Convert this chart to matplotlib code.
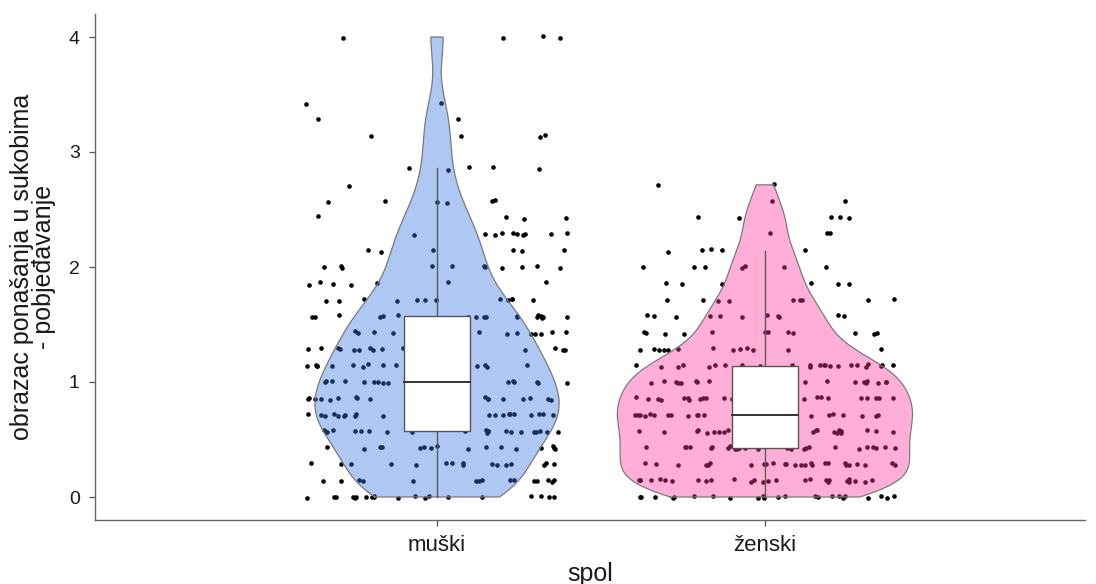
import numpy as np
import matplotlib.pyplot as plt
from matplotlib.patches import Rectangle

# answers are means of 7 items scored 0-4, so values sit on k/7
levels = np.arange(29) / 7.0

groups = ['muški', 'ženski']
# number of respondents at each level k/7 (k = 0..28)
counts_m = [20, 15, 16, 16, 22, 24, 21, 23, 18, 20, 14, 18, 12, 7, 11,
            6, 10, 4, 6, 1, 5, 0, 4, 2, 2, 0, 0, 0, 4]
counts_z = [23, 27, 26, 26, 25, 28, 26, 25, 24, 13, 12, 11, 9, 6, 7,
            5, 3, 5, 2, 2, 0, 0, 0, 0, 0, 0, 0, 0, 0]

fills = ['#3975e3', '#ff399d']
yticks = [0, 1, 2, 3, 4]

plt.rcParams['font.family'] = ['Liberation Sans', 'DejaVu Sans']


def nrd0(v):
    q75, q25 = np.percentile(v, [75, 25])
    s = min(np.std(v, ddof=1), (q75 - q25) / 1.34)
    return 0.9 * s * len(v) ** -0.2


def kde(v, grid):
    bw = nrd0(v)
    d = (grid[:, None] - v[None, :]) / bw
    return np.exp(-0.5 * d ** 2).sum(axis=1) / (len(v) * bw * np.sqrt(2 * np.pi))


data = [np.repeat(levels, counts_m), np.repeat(levels, counts_z)]

fig = plt.figure(figsize=(10.96, 5.84), dpi=100)
ax = fig.add_axes([95 / 1096, 64 / 584, 990 / 1096, 506 / 584])

# density curves, scaled by area (same max for the whole plot)
grids, dens = [], []
for v in data:
    g = np.linspace(v.min(), v.max(), 512)
    grids.append(g)
    dens.append(kde(v, g))
dmax = max(d.max() for d in dens)

# jitter offsets only (seeded so the run is repeatable)
rng = np.random.default_rng(12)

for i, v in enumerate(data):
    pos = i + 1
    n = len(v)
    xj = pos + rng.uniform(-0.4, 0.4, n)
    yj = v + rng.uniform(-0.012, 0.012, n)
    ax.scatter(xj, yj, s=11, color='black', linewidths=0, zorder=1)

    half = 0.45 * dens[i] / dmax
    ax.fill_betweenx(grids[i], pos - half, pos + half, facecolor=fills[i],
                     alpha=0.4, edgecolor='none', zorder=2)
    ax.plot(np.r_[pos - half, (pos + half)[::-1], pos - half[0]],
            np.r_[grids[i], grids[i][::-1], grids[i][0]],
            color='#7a7a7a', lw=0.9, zorder=3)

    q1, med, q3 = np.percentile(v, [25, 50, 75])
    iqr = q3 - q1
    lo = v[v >= q1 - 1.5 * iqr].min()
    hi = v[v <= q3 + 1.5 * iqr].max()
    ax.plot([pos, pos], [lo, hi], color='#5a5a5a', lw=1.0, zorder=4)
    ax.add_patch(Rectangle((pos - 0.1, q1), 0.2, iqr, facecolor='white',
                           edgecolor='#555555', lw=1.0, zorder=5))
    ax.plot([pos - 0.1, pos + 0.1], [med, med], color='#333333', lw=1.4, zorder=6)

ax.set_xlim(-0.043, 2.976)
ax.set_ylim(-0.2, 4.2)
ax.set_xticks([1, 2])
ax.set_xticklabels(groups)
ax.set_yticks(yticks)
ax.tick_params(colors='#555555', labelcolor='#1a1a1a', length=4, width=0.9)
ax.tick_params(axis='x', labelsize=16, pad=7)
ax.tick_params(axis='y', labelsize=14, pad=7)
for side in ['top', 'right']:
    ax.spines[side].set_visible(False)
for side in ['left', 'bottom']:
    ax.spines[side].set_color('#666666')
    ax.spines[side].set_linewidth(1.0)

ax.set_xlabel('spol', fontsize=18, labelpad=4, color='#1a1a1a')
ax.set_ylabel('obrazac ponašanja u sukobima\n- pobjeđavanje', fontsize=18,
              labelpad=9, linespacing=0.9, color='#1a1a1a')

fig.savefig('out.png', dpi=100)
